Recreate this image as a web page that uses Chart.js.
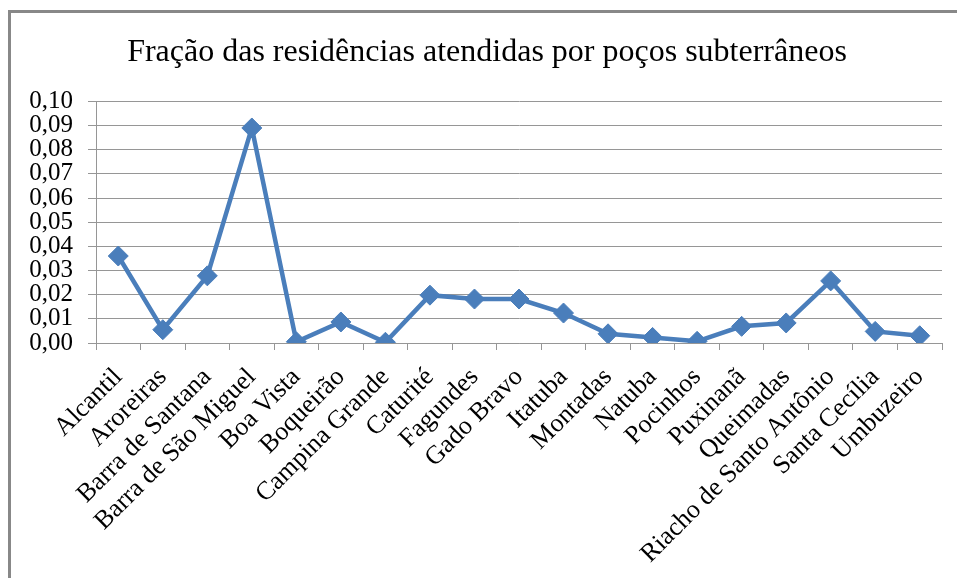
<!DOCTYPE html>
<html>
<head>
<meta charset="utf-8">
<script src="https://cdn.jsdelivr.net/npm/chart.js@4/dist/chart.umd.min.js"></script>
<style>
  html, body { margin: 0; padding: 0; background: #fff; }
  #wrap { position: relative; width: 957px; height: 578px; overflow: hidden; }
  #frame { position: absolute; left: 8px; top: 10px; width: 1000px; height: 1000px;
           border-left: 3px solid #888; border-top: 3px solid #888; box-sizing: border-box; }
  canvas { position: absolute; left: 0; top: 0; }
</style>
</head>
<body>
<div id="wrap">
  <div id="frame"></div>
  <canvas id="c" width="957" height="578"></canvas>
</div>
<script>
// municipios
const cities = [
    'Alcantil', 'Aroreiras', 'Barra de Santana', 'Barra de São Miguel', 'Boa Vista',
    'Boqueirão', 'Campina Grande', 'Caturité', 'Fagundes', 'Gado Bravo', 'Itatuba',
    'Montadas', 'Natuba', 'Pocinhos', 'Puxinanã', 'Queimadas', 'Riacho de Santo Antônio',
    'Santa Cecília', 'Umbuzeiro'
];

// fraction of homes served by wells
const fraction = [
    0.036, 0.0055, 0.0278, 0.089, 0.0005, 0.0087, 0.0003, 0.0198, 0.0182, 0.0182,
    0.0124, 0.0038, 0.0023, 0.0007, 0.0069, 0.0083, 0.0257, 0.0048, 0.003
];

const yMin = 0;
const yMax = 0.1;
const yStep = 0.01;

const serif = "'Liberation Serif', 'Times New Roman', serif";
const blue = '#4A7EBB';
const gridColor = '#969696';

// the original title sits a bit right of the canvas centre
const nudgeTitle = {
    id: 'nudgeTitle',
    afterLayout: (chart) => {
        if (chart.titleBlock) chart.titleBlock.left += 32;
    }
};

new Chart(document.getElementById('c'), {
    type: 'line',
    data: {
        labels: cities,
        datasets: [{
            data: fraction,
            borderColor: blue,
            backgroundColor: blue,
            borderWidth: 4.5,
            pointStyle: 'rectRot',
            pointRadius: 10,
            pointBorderWidth: 1,
            pointBorderColor: blue,
            pointBackgroundColor: blue,
            tension: 0,
        }],
    },
    options: {
        responsive: false,
        animation: false,
        layout: { padding: { left: 0, right: 15, top: 0, bottom: 0 } },
        plugins: {
            legend: { display: false },
            tooltip: { enabled: false },
            title: {
                display: true,
                text: 'Fração das residências atendidas por poços subterrâneos',
                color: '#000',
                font: { family: serif, size: 32, weight: 'normal', lineHeight: 1.2 },
                padding: { top: 33, bottom: 30 },
            },
        },
        scales: {
            x: {
                offset: true,
                grid: {
                    drawOnChartArea: false,
                    drawTicks: true,
                    tickLength: 7,
                    color: gridColor,
                    offset: true,
                },
                border: { color: gridColor, width: 1 },
                ticks: {
                    autoSkip: false,
                    minRotation: 45,
                    maxRotation: 45,
                    padding: 12,
                    color: '#000',
                    font: { family: serif, size: 26 },
                },
                afterFit: (scale) => { scale.height = 235; },
            },
            y: {
                min: yMin,
                max: yMax,
                grid: { color: gridColor, tickLength: 8 },
                border: { color: gridColor, width: 1 },
                ticks: {
                    stepSize: yStep,
                    autoSkip: false,
                    padding: 15,
                    color: '#000',
                    font: { family: serif, size: 25 },
                    callback: (v) => v.toFixed(2).replace('.', ','),
                },
                afterFit: (scale) => { scale.width = 96; },
            },
        },
    },
    plugins: [nudgeTitle],
});
</script>
</body>
</html>
